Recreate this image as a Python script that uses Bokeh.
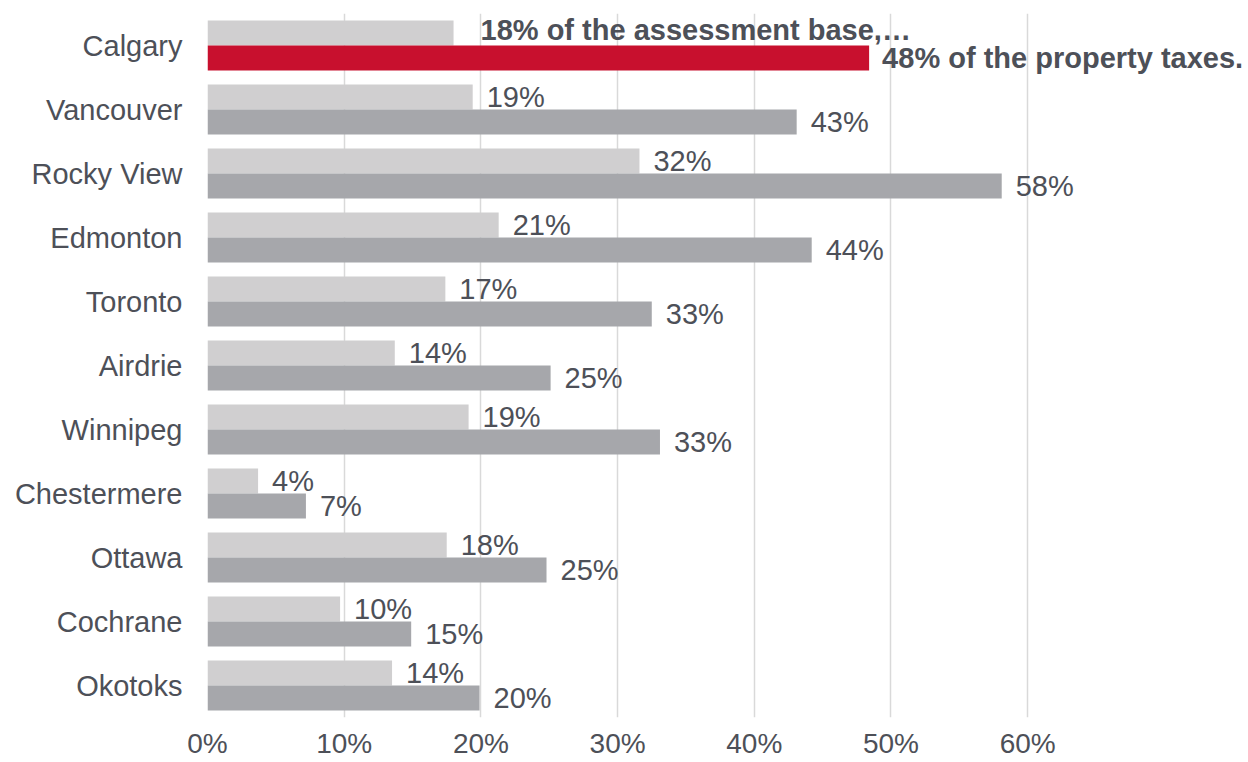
import math
from bokeh.plotting import figure
from bokeh.models import ColumnDataSource, FactorRange, FixedTicker, Range1d
from bokeh.transform import dodge
from bokeh.core.properties import value
from bokeh.embed import file_html
from bokeh.resources import INLINE

# ---- data ----
cities = ["Calgary", "Vancouver", "Rocky View", "Edmonton", "Toronto", "Airdrie",
          "Winnipeg", "Chestermere", "Ottawa", "Cochrane", "Okotoks"]
assessment_share = [18.0, 19.4, 31.6, 21.3, 17.4, 13.7, 19.1, 3.7, 17.5, 9.7, 13.5]
tax_share = [48.4, 43.1, 58.1, 44.2, 32.5, 25.1, 33.1, 7.2, 24.8, 14.9, 19.9]
highlight_city = "Calgary"
highlight_assessment_text = "18% of the assessment base,\u2026"
highlight_tax_text = "48% of the property taxes."
x_ticks = [0, 10, 20, 30, 40, 50, 60]
x_tick_labels = ["0%", "10%", "20%", "30%", "40%", "50%", "60%"]

# ---- styles ----
LIGHT = "#d0cfd0"
DARK = "#a6a7ab"
RED = "#c8102e"
TEXT = "#4d5058"
GRID = "#d9d9d9"
FONT = "Liberation Sans"
FS = "29px"
FS_TICK = "28px"


def pct(v):
    return "%d%%" % math.floor(v + 0.5)


W, H = 1244, 762
p = figure(width=W, height=H, output_backend="svg", toolbar_location=None,
           y_range=FactorRange(*reversed(cities)),
           x_range=Range1d(0, 75.86),
           min_border_left=207, min_border_right=0, min_border_top=13,
           min_border_bottom=45)

is_hl = [c == highlight_city for c in cities]
src = ColumnDataSource(dict(
    city=cities,
    assessment=assessment_share,
    tax=tax_share,
    tax_color=[RED if h else DARK for h in is_hl],
))

BH = 0.39
p.hbar(y=dodge("city", BH / 2, range=p.y_range), left=0, right="assessment",
       height=BH, fill_color=LIGHT, line_color=None, source=src)
p.hbar(y=dodge("city", -BH / 2, range=p.y_range), left=0, right="tax",
       height=BH, fill_color="tax_color", line_color=None, source=src)

# normal value labels
idx = [i for i, h in enumerate(is_hl) if not h]
lab = ColumnDataSource(dict(
    city=[cities[i] for i in idx],
    assessment=[assessment_share[i] for i in idx],
    tax=[tax_share[i] for i in idx],
    a_text=[pct(assessment_share[i]) for i in idx],
    t_text=[pct(tax_share[i]) for i in idx],
))
p.text(x="assessment", y=dodge("city", BH / 2, range=p.y_range), text="a_text",
       x_offset=14, text_baseline="middle", text_align="left",
       text_font=value(FONT), text_font_size=FS, text_color=TEXT, source=lab)
p.text(x="tax", y=dodge("city", -BH / 2, range=p.y_range), text="t_text",
       x_offset=14, text_baseline="middle", text_align="left",
       text_font=value(FONT), text_font_size=FS, text_color=TEXT, source=lab)

# highlight labels
hi = cities.index(highlight_city)
hsrc = ColumnDataSource(dict(
    city=[cities[hi]],
    assessment=[assessment_share[hi]],
    tax=[tax_share[hi]],
    a_text=[highlight_assessment_text],
    t_text=[highlight_tax_text],
))
p.text(x="assessment", y=dodge("city", BH / 2 + 0.04, range=p.y_range), text="a_text",
       x_offset=27, text_baseline="middle", text_align="left",
       text_font=value(FONT), text_font_size=FS, text_font_style="bold",
       text_color=TEXT, source=hsrc)
p.text(x="tax", y=dodge("city", -BH / 2, range=p.y_range), text="t_text",
       x_offset=13, text_baseline="middle", text_align="left",
       text_font=value(FONT), text_font_size=FS, text_font_style="bold",
       text_color=TEXT, source=hsrc)

# axes
p.xaxis.ticker = FixedTicker(ticks=x_ticks)
p.xaxis.major_label_overrides = {t: l for t, l in zip(x_ticks, x_tick_labels)}
for ax in (p.xaxis, p.yaxis):
    ax.axis_line_color = None
    ax.major_tick_line_color = None
    ax.minor_tick_line_color = None
    ax.major_tick_out = 0
    ax.major_tick_in = 0
    ax.minor_tick_out = 0
    ax.minor_tick_in = 0
    ax.major_label_text_font = FONT
    ax.major_label_text_color = TEXT
p.xaxis.major_label_text_font_size = FS_TICK
p.yaxis.major_label_text_font_size = FS
p.xaxis.major_label_standoff = 10
p.yaxis.major_label_standoff = 25

p.xgrid.grid_line_color = GRID
p.xgrid.grid_line_width = 1.5
p.ygrid.grid_line_color = None
p.outline_line_color = None
p.background_fill_color = "white"
p.border_fill_color = "white"

open("out.html", "w").write(file_html(p, INLINE))
